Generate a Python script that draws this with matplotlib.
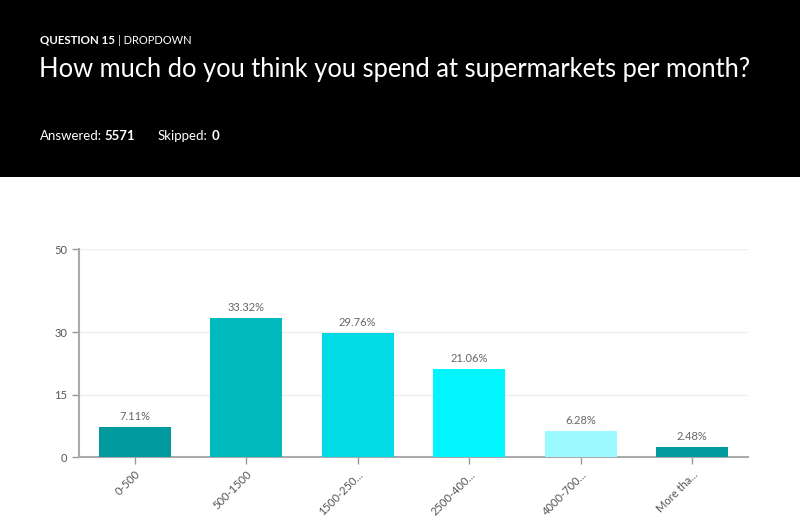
import matplotlib.pyplot as plt

categories = ["0-500", "500-1500", "1500-250...", "2500-400...", "4000-700...", "More tha..."]
percents = [7.11, 33.32, 29.76, 21.06, 6.28, 2.48]
bar_colors = ["#00999e", "#00bac0", "#00dbe5", "#00f5ff", "#9afaff", "#00999e"]
yticks = [0, 15, 30, 50]

plt.rcParams['font.family'] = ['Lato', 'DejaVu Sans']

fig = plt.figure(figsize=(8, 5.31), dpi=100)
W, H = 800, 531

# black header
hdr = fig.add_axes([0, 1 - 177 / H, 1, 177 / H])
hdr.set_facecolor("black")
hdr.set_xticks([])
hdr.set_yticks([])
for s in hdr.spines.values():
    s.set_visible(False)

def fy(py):
    return 1 - py / H

fig.text(40 / W, fy(40), "QUESTION 15", color="white", fontsize=8.3, fontweight="bold", va="center")
fig.text(118 / W, fy(40), "| DROPDOWN", color="white", fontsize=8, va="center")
fig.text(39 / W, fy(70), "How much do you think you spend at supermarkets per month?",
         color="white", fontsize=18.4, fontweight="normal", va="center")
fig.text(40 / W, fy(136), "Answered:", color="white", fontsize=9.5, va="center")
fig.text(104 / W, fy(136), "5571", color="white", fontsize=9.5, fontweight="bold", va="center")
fig.text(158 / W, fy(136), "Skipped:", color="white", fontsize=9.5, va="center")
fig.text(212 / W, fy(136), "0", color="white", fontsize=9.5, fontweight="bold", va="center")

ax = fig.add_axes([79 / W, 1 - 457 / H, (748 - 79) / W, (457 - 249) / H])
x = range(len(categories))
ax.bar(x, percents, width=0.645, color=bar_colors, zorder=3)
for i, p in enumerate(percents):
    ax.text(i, p + 1.2, f"{p:.2f}%", ha="center", va="bottom", fontsize=8, color="#666666")

ax.set_xlim(-0.5, len(categories) - 0.5)
ax.set_ylim(0, 50)
ax.set_yticks(yticks)
ax.set_yticklabels([str(t) for t in yticks], fontsize=8, color="#555555")
ax.set_xticks(list(x))
ax.set_xticklabels(categories, rotation=45, ha="right", rotation_mode="anchor",
                   fontsize=8, color="#555555")
ax.tick_params(axis="both", color="#999999", length=5, width=1)
ax.grid(axis="y", color="#eeeeee", lw=1, zorder=0)
for s in ["top", "right"]:
    ax.spines[s].set_visible(False)
ax.spines["left"].set_color("#aaaaaa")
ax.spines["bottom"].set_color("#aaaaaa")
ax.spines["left"].set_linewidth(1.5)
ax.spines["bottom"].set_linewidth(1.5)

fig.savefig("out.png", dpi=100)
